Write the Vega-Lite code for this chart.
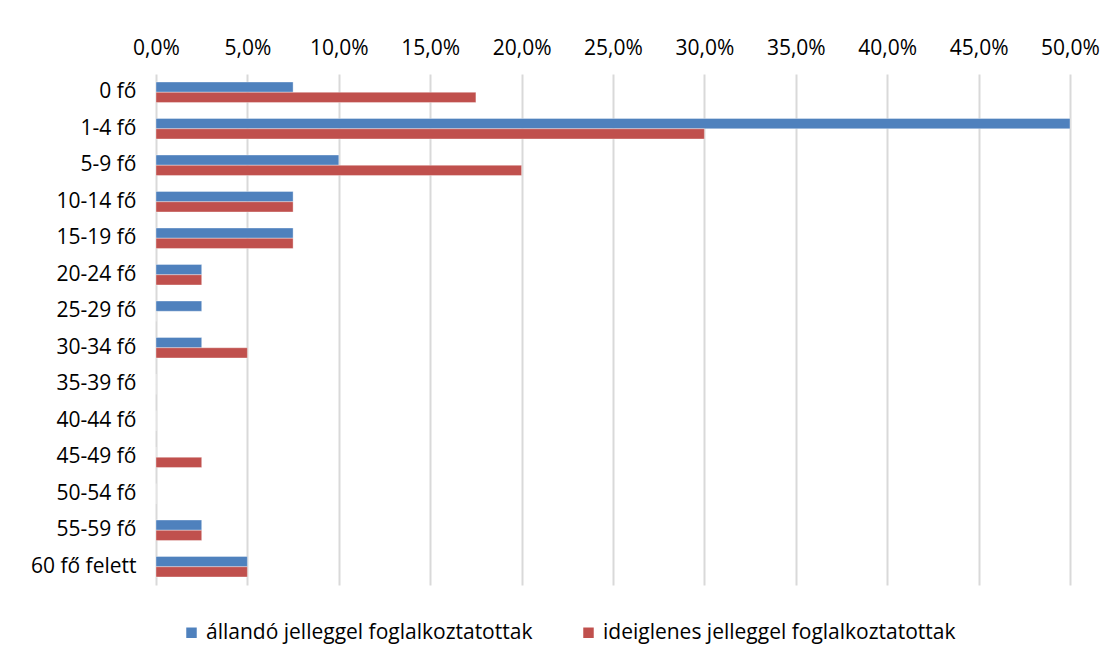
{
  "$schema": "https://vega.github.io/schema/vega-lite/v6.json",
  "autosize": {"type": "none"},
  "width": 914,
  "height": 511,
  "padding": {"left": 156, "top": 74, "right": 48, "bottom": 84},
  "background": "white",
  "config": {
    "locale": {"number": {"decimal": ",", "thousands": " ", "grouping": [3], "currency": ["", " Ft"]}},
    "view": {"stroke": null},
    "font": "Open Sans"
  },
  "data": {
    "values": [
      {"kat": "0 fő", "sorozat": "állandó jelleggel foglalkoztatottak", "ertek": 0.075},
      {"kat": "0 fő", "sorozat": "ideiglenes jelleggel foglalkoztatottak", "ertek": 0.175},
      {"kat": "1-4 fő", "sorozat": "állandó jelleggel foglalkoztatottak", "ertek": 0.5},
      {"kat": "1-4 fő", "sorozat": "ideiglenes jelleggel foglalkoztatottak", "ertek": 0.3},
      {"kat": "5-9 fő", "sorozat": "állandó jelleggel foglalkoztatottak", "ertek": 0.1},
      {"kat": "5-9 fő", "sorozat": "ideiglenes jelleggel foglalkoztatottak", "ertek": 0.2},
      {"kat": "10-14 fő", "sorozat": "állandó jelleggel foglalkoztatottak", "ertek": 0.075},
      {"kat": "10-14 fő", "sorozat": "ideiglenes jelleggel foglalkoztatottak", "ertek": 0.075},
      {"kat": "15-19 fő", "sorozat": "állandó jelleggel foglalkoztatottak", "ertek": 0.075},
      {"kat": "15-19 fő", "sorozat": "ideiglenes jelleggel foglalkoztatottak", "ertek": 0.075},
      {"kat": "20-24 fő", "sorozat": "állandó jelleggel foglalkoztatottak", "ertek": 0.025},
      {"kat": "20-24 fő", "sorozat": "ideiglenes jelleggel foglalkoztatottak", "ertek": 0.025},
      {"kat": "25-29 fő", "sorozat": "állandó jelleggel foglalkoztatottak", "ertek": 0.025},
      {"kat": "25-29 fő", "sorozat": "ideiglenes jelleggel foglalkoztatottak", "ertek": 0},
      {"kat": "30-34 fő", "sorozat": "állandó jelleggel foglalkoztatottak", "ertek": 0.025},
      {"kat": "30-34 fő", "sorozat": "ideiglenes jelleggel foglalkoztatottak", "ertek": 0.05},
      {"kat": "35-39 fő", "sorozat": "állandó jelleggel foglalkoztatottak", "ertek": 0},
      {"kat": "35-39 fő", "sorozat": "ideiglenes jelleggel foglalkoztatottak", "ertek": 0},
      {"kat": "40-44 fő", "sorozat": "állandó jelleggel foglalkoztatottak", "ertek": 0},
      {"kat": "40-44 fő", "sorozat": "ideiglenes jelleggel foglalkoztatottak", "ertek": 0},
      {"kat": "45-49 fő", "sorozat": "állandó jelleggel foglalkoztatottak", "ertek": 0},
      {"kat": "45-49 fő", "sorozat": "ideiglenes jelleggel foglalkoztatottak", "ertek": 0.025},
      {"kat": "50-54 fő", "sorozat": "állandó jelleggel foglalkoztatottak", "ertek": 0},
      {"kat": "50-54 fő", "sorozat": "ideiglenes jelleggel foglalkoztatottak", "ertek": 0},
      {"kat": "55-59 fő", "sorozat": "állandó jelleggel foglalkoztatottak", "ertek": 0.025},
      {"kat": "55-59 fő", "sorozat": "ideiglenes jelleggel foglalkoztatottak", "ertek": 0.025},
      {"kat": "60 fő felett", "sorozat": "állandó jelleggel foglalkoztatottak", "ertek": 0.05},
      {"kat": "60 fő felett", "sorozat": "ideiglenes jelleggel foglalkoztatottak", "ertek": 0.05}
    ]
  },
  "mark": {"type": "bar", "stroke": "white", "strokeOpacity": 0.35, "strokeWidth": 1},
  "encoding": {
    "y": {
      "field": "kat", "type": "nominal", "sort": null,
      "scale": {"paddingInner": 0.44, "paddingOuter": 0.22},
      "axis": {
        "title": null, "domain": false, "ticks": false, "labelPadding": 20,
        "labelFontSize": 21, "labelColor": "#000000"
      }
    },
    "yOffset": {
      "field": "sorozat", "type": "nominal",
      "sort": ["állandó jelleggel foglalkoztatottak", "ideiglenes jelleggel foglalkoztatottak"]
    },
    "x": {
      "field": "ertek", "type": "quantitative",
      "scale": {"domain": [0, 0.5], "nice": false},
      "axis": {
        "orient": "top", "title": null, "format": ".1%", "values": [0, 0.05, 0.1, 0.15, 0.2, 0.25, 0.3, 0.35, 0.4, 0.45, 0.5],
        "domain": false, "ticks": false, "labelPadding": 16, "labelFontSize": 21, "labelColor": "#000000",
        "grid": true, "gridColor": "#D9D9D9", "gridWidth": 2, "labelFlush": false
      }
    },
    "color": {
      "field": "sorozat", "type": "nominal",
      "scale": {
        "domain": ["állandó jelleggel foglalkoztatottak", "ideiglenes jelleggel foglalkoztatottak"],
        "range": ["#4F81BD", "#C0504D"]
      },
      "legend": {
        "orient": "none", "direction": "horizontal", "title": null,
        "legendX": 25, "legendY": 548,
        "symbolType": "square", "symbolSize": 110, "symbolStrokeWidth": 0,
        "labelFontSize": 21, "labelColor": "#000000", "labelOffset": 4,
        "columnPadding": 45, "labelLimit": 450
      }
    }
  }
}
